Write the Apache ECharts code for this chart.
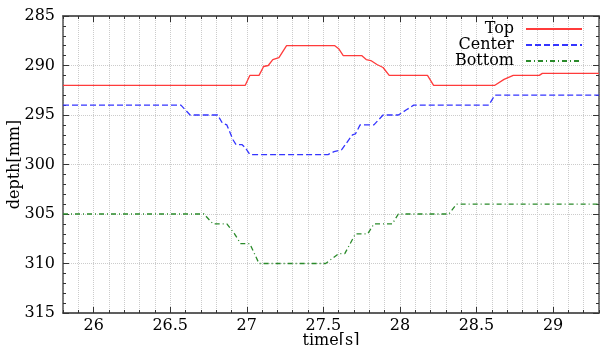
<!DOCTYPE html>
<html>
<head>
<meta charset="utf-8">
<script src="https://cdn.jsdelivr.net/npm/echarts@6/dist/echarts.min.js"></script>
<style>html,body{margin:0;padding:0;background:#fff}#c{width:601px;height:345px}</style>
</head>
<body>
<div id="c"></div>
<script>
var seriesNames = ['Top', 'Center', 'Bottom'];
var topTime = [25.8, 26.99, 27.02, 27.08, 27.11, 27.14, 27.17, 27.21, 27.26, 27.575, 27.6, 27.63, 27.75, 27.78, 27.81, 27.85, 27.89, 27.93, 28.18, 28.22, 28.62, 28.68, 28.74, 28.91, 28.93, 29.3];
var topDepth = [292, 292, 291, 291, 290.1, 290, 289.4, 289.2, 288, 288, 288.3, 289, 289, 289.4, 289.5, 289.9, 290.2, 291, 291, 292, 292, 291.4, 291, 291, 290.8, 290.8];
var centerTime = [25.8, 26.57, 26.63, 26.81, 26.84, 26.87, 26.91, 26.93, 26.97, 26.99, 27.02, 27.53, 27.57, 27.62, 27.69, 27.71, 27.74, 27.83, 27.89, 27.99, 28.04, 28.09, 28.58, 28.62, 29.3];
var centerDepth = [294, 294, 295, 295, 295.8, 296, 297.5, 298, 298, 298.3, 299, 299, 298.7, 298.5, 297, 296.9, 296, 296, 295, 295, 294.5, 294, 294, 293, 293];
var bottomTime = [25.8, 26.72, 26.78, 26.87, 26.92, 26.96, 27.02, 27.08, 27.515, 27.6, 27.64, 27.71, 27.79, 27.83, 27.95, 27.99, 28.32, 28.37, 29.3];
var bottomDepth = [305, 305, 306, 306, 307, 308, 308, 310, 310, 309, 309, 307, 307, 306, 306, 305, 305, 304, 304];
var xMajorTicks = [26, 26.5, 27, 27.5, 28, 28.5, 29];

function pairs(t, d) { return t.map(function (v, i) { return [v, d[i]]; }); }

var FONT = 'DejaVu Serif';
var AX = '#555';
var xMin = 25.8, xMax = 29.3, yMin = 285, yMax = 315;

function xAx(pos, major, labels) {
  return {
    type: 'value', position: pos, min: xMin, max: xMax,
    interval: 0.1,
    axisLine: { show: true, onZero: false, lineStyle: { color: AX, width: 1.5 } },
    axisTick: major ? { show: true, inside: true, length: 6, customValues: xMajorTicks, lineStyle: { color: '#333' } }
                    : { show: true, inside: true, length: 3, lineStyle: { color: '#333' } },
    axisLabel: labels ? {
      show: true, color: '#000', fontFamily: FONT, fontSize: 16, margin: 5,
      formatter: function (v) { var h = v * 2; return Math.abs(h - Math.round(h)) < 1e-6 ? String(Math.round(h) / 2) : ''; }
    } : { show: false },
    splitLine: { show: labels, lineStyle: { color: '#cccccc', type: 'dotted', width: 1 } }
  };
}
function yAx(pos, labels) {
  return {
    type: 'value', position: pos, min: yMin, max: yMax, interval: 5, inverse: true,
    name: labels ? 'depth[mm]' : '', nameLocation: 'middle', nameGap: 40, nameMoveOverlap: false,
    nameTextStyle: { color: '#000', fontFamily: FONT, fontSize: 16 },
    axisLine: { show: true, onZero: false, lineStyle: { color: AX, width: 1.5 } },
    axisTick: { show: true, inside: true, length: 6, lineStyle: { color: '#333' } },
    minorTick: { show: true, splitNumber: 5, length: 3, lineStyle: { color: '#333' } },
    axisLabel: labels ? { show: true, color: '#000', fontFamily: FONT, fontSize: 16, margin: 8 } : { show: false },
    splitLine: { show: labels, lineStyle: { color: '#cccccc', type: 'dotted', width: 1 } }
  };
}

var xAxes = [xAx('bottom', false, true), xAx('bottom', true, false), xAx('top', false, false), xAx('top', true, false)];
xAxes[0].name = 'time[s]';
xAxes[0].nameLocation = 'middle';
xAxes[0].nameGap = 20;
xAxes[0].nameMoveOverlap = false;
xAxes[0].nameTextStyle = { color: '#000', fontFamily: FONT, fontSize: 16 };

var chart = echarts.init(document.getElementById('c'), null, { renderer: 'canvas' });
chart.setOption({
  animation: false,
  backgroundColor: '#fff',
  grid: { left: 63, right: 2, top: 16, bottom: 32, containLabel: false, outerBoundsMode: 'none' },
  legend: {
    data: seriesNames, orient: 'vertical', right: 13, top: 16, align: 'right',
    itemWidth: 56, itemHeight: 10, itemGap: 0,
    itemStyle: { opacity: 0 },
    textStyle: { color: '#000', fontFamily: FONT, fontSize: 16, lineHeight: 16, padding: [0, 7, 0, 0] }
  },
  xAxis: xAxes,
  yAxis: [yAx('left', true), yAx('right', false)],
  series: [
    { name: seriesNames[0], type: 'line', symbol: 'none', showSymbol: false, data: pairs(topTime, topDepth),
      lineStyle: { color: '#ff3b3b', width: 1.3, type: 'solid' }, itemStyle: { color: '#ff3b3b' } },
    { name: seriesNames[1], type: 'line', symbol: 'none', showSymbol: false, data: pairs(centerTime, centerDepth),
      lineStyle: { color: '#3535ff', width: 1.3, type: [6, 3] }, itemStyle: { color: '#3535ff' } },
    { name: seriesNames[2], type: 'line', symbol: 'none', showSymbol: false, data: pairs(bottomTime, bottomDepth),
      lineStyle: { color: '#2a8a2a', width: 1.3, type: [5, 3, 1, 3] }, itemStyle: { color: '#2a8a2a' } }
  ]
});
</script>
</body>
</html>
